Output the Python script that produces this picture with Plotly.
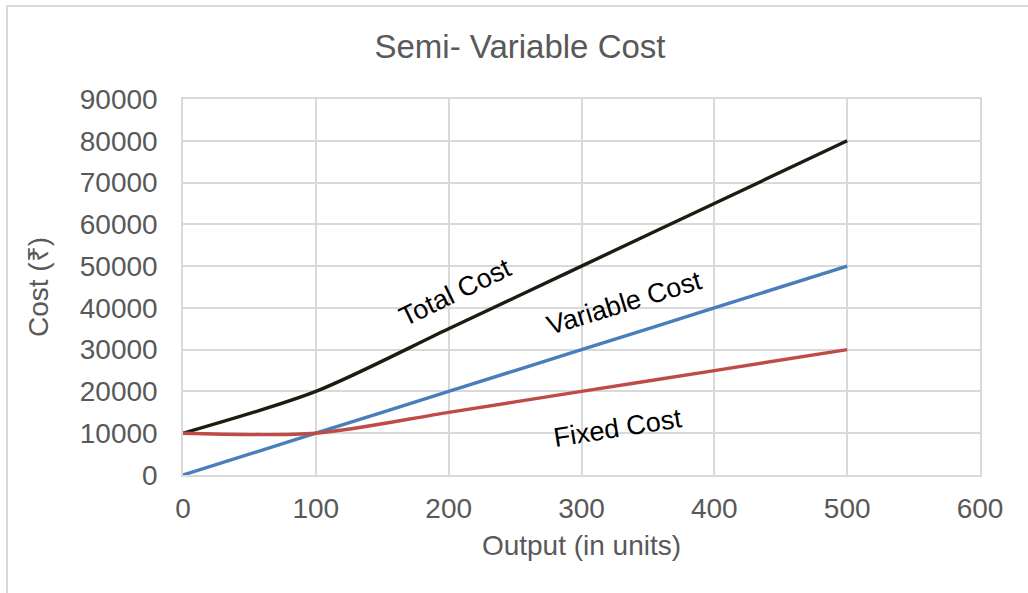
import plotly.graph_objects as go

output_units = [0, 100, 200, 300, 400, 500]
total_cost = [10000, 20000, 35000, 50000, 65000, 80000]
variable_cost = [0, 10000, 20000, 30000, 40000, 50000]
fixed_cost = [10000, 10000, 15000, 20000, 25000, 30000]

series = [
    ("Total Cost", total_cost, "#1c1c12"),
    ("Variable Cost", variable_cost, "#4a7ebb"),
    ("Fixed Cost", fixed_cost, "#be4b48"),
]

fig = go.Figure()
for name, vals, col in series:
    fig.add_trace(go.Scatter(x=output_units, y=vals, mode="lines", name=name,
                             line=dict(color=col, width=3.4, shape="spline", smoothing=0.8)))

label_font = dict(family="Liberation Sans, Arial", size=27, color="#000000")
fig.add_annotation(x=205.5, y=43800, text="Total Cost", showarrow=False, textangle=-26, font=label_font)
fig.add_annotation(x=332, y=41200, text="Variable Cost", showarrow=False, textangle=-17, font=label_font)
fig.add_annotation(x=327.5, y=11250, text="Fixed Cost", showarrow=False, textangle=-9, font=label_font)

grid = "#d9d9d9"
fig.update_layout(
    width=1028, height=593,
    margin=dict(l=183, r=48, t=99, b=118),
    paper_bgcolor="white", plot_bgcolor="white",
    showlegend=False,
    font=dict(family="Liberation Sans, Arial", color="#595959", size=28),
    title=dict(text="Semi- Variable Cost", x=520 / 1028, xanchor="center", y=1 - 46 / 593, yanchor="middle",
               font=dict(size=33, color="#595959")),
    xaxis=dict(range=[0, 600], dtick=100, tick0=0, showgrid=True, gridcolor=grid, gridwidth=1.5,
               zeroline=False, showline=True, linecolor=grid, linewidth=1.5, mirror=True,
               ticks="", ticklabelstandoff=8,
               title=dict(text="Output (in units)", standoff=12, font=dict(size=28, color="#595959"))),
    yaxis=dict(range=[0, 90000], dtick=10000, tick0=0, showgrid=True, gridcolor=grid, gridwidth=1.5,
               zeroline=False, showline=True, linecolor=grid, linewidth=1.5, mirror=True,
               ticks="", ticklabelstandoff=18, tickformat="d",
               title=dict(text="Cost (₹)", standoff=23, font=dict(size=28, color="#595959"))),
)

fig.add_shape(type="rect", xref="paper", yref="paper",
              x0=(7 - 183) / 797, x1=1.2, y0=-0.5, y1=(475 - 6) / 376,
              line=dict(color="#d9d9d9", width=2), layer="below")

fig.write_html("out.html", config={"displayModeBar": False},
               post_script="document.body.style.margin='0px';")
